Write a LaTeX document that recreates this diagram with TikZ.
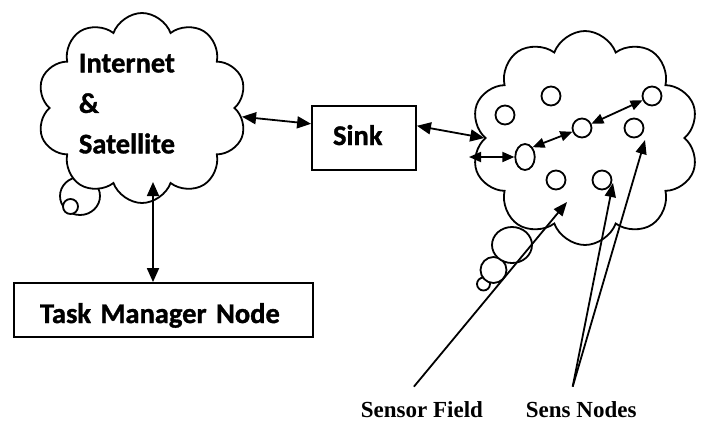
\documentclass[tikz,border=0pt]{standalone}
\usepackage{fontspec}
\newfontfamily\calibrifont{Carlito}[BoldFont={Carlito Bold}, BoldFeatures={FakeBold=1.2}]
\newfontfamily\timesfont{Liberation Serif}
\usetikzlibrary{arrows.meta,shapes.symbols,shapes.geometric}
\tikzset{every picture/.style={line width=1.8pt}}
\tikzset{
cloudshape/.style={cloud, draw, fill=white, cloud puffs=10, cloud puff arc=140, cloud ignores aspect, inner sep=0pt},
boxshape/.style={draw, rectangle, align=left, text depth=0pt, font=\calibrifont\bfseries\fontsize{28.5}{34}\selectfont},
sensor/.style={circle, draw, minimum size=19pt, inner sep=0pt},
link/.style={{Triangle[length=14pt,width=12pt]}-{Triangle[length=14pt,width=12pt]}},
smalllink/.style={{Triangle[length=12pt,width=10pt]}-{Triangle[length=12pt,width=10pt]}},
pointer/.style={-{Triangle[length=14pt,width=11pt]}},
caption/.style={anchor=base west, inner sep=0pt, font=\timesfont\bfseries\fontsize{23}{28}\selectfont}
}

\begin{document}
\begin{tikzpicture}[x=1pt,y=1pt,yscale=-1,xscale=1]
\useasboundingbox (0,0) rectangle (708,421);

%Shape: Thought bubbles (left)
\draw  [fill=white] (80,196) ellipse [x radius=20, y radius=19] ;
\draw  [fill=white] (70.5,206.5) circle [radius=7.5] ;
%Shape: Cloud (left)
\node [cloudshape, minimum width=210pt, minimum height=190pt] (inet) at (142,108) {};
% Text Node
\node [anchor=north west, inner sep=0pt, align=left, font=\calibrifont\bfseries\fontsize{28.5}{40.5}\selectfont] (inetlbl) at (78,53) {Internet\\\&\\Satellite};

%Shape: Thought bubbles (right)
\draw  [fill=white] (483.5,284) circle [radius=6.5] ;
\draw  [fill=white] (493.5,270) circle [radius=13] ;
\draw  [fill=white] (512,245) ellipse [x radius=20, y radius=18] ;
%Shape: Cloud (right)
\node [cloudshape, minimum width=228pt, minimum height=214pt] (field) at (585,138) {};

%Shape: Rectangles
\node [boxshape, text width=62pt, inner xsep=21pt, minimum height=64pt, text height=14pt] (sink) at (364,138) {Sink};
\node [boxshape, text width=247pt, inner xsep=26pt, minimum height=54pt, text height=26pt] (task) at (163.5,310) {Task Manager Node};

%Shape: Sensor nodes
\node [ellipse, draw, minimum width=19.5pt, minimum height=26pt, inner sep=0pt] (s0) at (525,157) {};
\node [sensor] (s1) at (505,115) {};
\node [sensor] (s2) at (551,96) {};
\node [sensor] (s3) at (582,128) {};
\node [sensor] (s4) at (652,96) {};
\node [sensor] (s5) at (634,128) {};
\node [sensor] (s6) at (556,180) {};
\node [sensor] (s7) at (602,180) {};

%Coordinates
\coordinate (inetbot) at (153,182);
\coordinate (fieldleft) at (469,157);
\coordinate (sftip) at (567,202);
\coordinate (sntipa) at (613,183);
\coordinate (sntipb) at (645,140);

%Straight Lines
\draw [link] (inet.-5) -- (sink.165) ;
\draw [link] (sink.13) -- (field.west) ;
\draw [link] (inetbot) -- (inetbot |- task.north) ;
\draw [smalllink] (fieldleft) -- (s0) ;
\draw [smalllink] (s0.north east) -- (s3) ;
\draw [smalllink] (s3) -- (s4) ;

% Text Node
\node [caption] (sflbl) at (360,417.5) {Sensor Field};
% Text Node
\node [caption] (snlbl) at (525,417.5) {Sens Nodes};

%Straight Lines
\draw [pointer] (sflbl.north) ++(-8,-14) -- (sftip) ;
\draw [pointer] (snlbl.north) ++(-8.5,-14) -- (sntipa) ;
\draw [pointer] (snlbl.north) ++(-8.5,-14) -- (sntipb) ;

\end{tikzpicture}
\end{document}
